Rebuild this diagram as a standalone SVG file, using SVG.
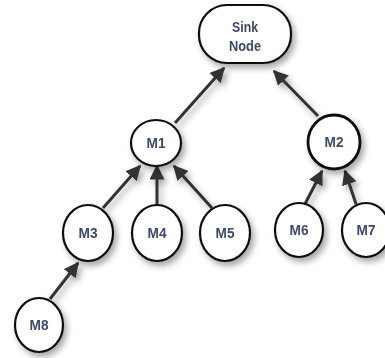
<svg xmlns="http://www.w3.org/2000/svg" width="385" height="358" viewBox="0 0 385 358">
  <defs>
    <filter id="shadow" x="-30%" y="-30%" width="170%" height="170%">
      <feDropShadow dx="3" dy="4" stdDeviation="3" flood-color="#000" flood-opacity="0.35"/>
    </filter>
    <marker id="arrow" viewBox="0 0 10 10" refX="9" refY="5" markerWidth="5" markerHeight="5" markerUnits="strokeWidth" orient="auto">
      <path d="M0,0 L10,5 L0,10 z" fill="#333"/>
    </marker>
  </defs>
  <style>
    .node { fill: #fff; stroke: #111; stroke-width: 2.2; }
    .label { font-family: "Liberation Sans Narrow", "Liberation Sans", Arial, sans-serif; font-weight: bold; font-size: 15px; fill: #3d4a6a; text-anchor: middle; }
    .edge { stroke: #333; stroke-width: 3; fill: none; marker-end: url(#arrow); }
  </style>

  <g id="connectors" filter="url(#shadow)">
    <line class="edge" x1="175" y1="123" x2="224" y2="68"/>
    <line class="edge" x1="318" y1="116" x2="274" y2="71"/>
    <line class="edge" x1="103" y1="208" x2="140" y2="166"/>
    <line class="edge" x1="157" y1="205" x2="157" y2="166"/>
    <line class="edge" x1="212" y1="208" x2="174" y2="166"/>
    <line class="edge" x1="305" y1="204" x2="322" y2="171"/>
    <line class="edge" x1="356" y1="204" x2="345" y2="171"/>
    <line class="edge" x1="50" y1="299" x2="78" y2="263"/>
  </g>

  <g id="sink" filter="url(#shadow)">
    <rect class="node" x="199" y="5" width="92" height="58" rx="28" ry="28"/>
    <text class="label" x="245" y="32" textLength="26" lengthAdjust="spacingAndGlyphs">Sink</text>
    <text class="label" x="245" y="51" textLength="32" lengthAdjust="spacingAndGlyphs">Node</text>
  </g>
  <g id="m1" filter="url(#shadow)">
    <ellipse class="node" cx="156" cy="143" rx="25" ry="23"/>
    <text class="label" x="156" y="148" textLength="19" lengthAdjust="spacingAndGlyphs">M1</text>
  </g>
  <g id="m2" filter="url(#shadow)">
    <ellipse class="node" cx="334" cy="142" rx="26" ry="27" style="stroke-width:2.8"/>
    <text class="label" x="334" y="147" textLength="19" lengthAdjust="spacingAndGlyphs">M2</text>
  </g>
  <g id="m3" filter="url(#shadow)">
    <ellipse class="node" cx="88" cy="233" rx="25" ry="28"/>
    <text class="label" x="88" y="238" textLength="19" lengthAdjust="spacingAndGlyphs">M3</text>
  </g>
  <g id="m4" filter="url(#shadow)">
    <ellipse class="node" cx="157" cy="233" rx="25" ry="28"/>
    <text class="label" x="157" y="238" textLength="19" lengthAdjust="spacingAndGlyphs">M4</text>
  </g>
  <g id="m5" filter="url(#shadow)">
    <ellipse class="node" cx="225" cy="233" rx="25" ry="28"/>
    <text class="label" x="225" y="238" textLength="19" lengthAdjust="spacingAndGlyphs">M5</text>
  </g>
  <g id="m6" filter="url(#shadow)">
    <ellipse class="node" cx="299" cy="230" rx="24" ry="27"/>
    <text class="label" x="299" y="235" textLength="19" lengthAdjust="spacingAndGlyphs">M6</text>
  </g>
  <g id="m7" filter="url(#shadow)">
    <ellipse class="node" cx="366" cy="230" rx="24" ry="27"/>
    <text class="label" x="366" y="235" textLength="19" lengthAdjust="spacingAndGlyphs">M7</text>
  </g>
  <g id="m8" filter="url(#shadow)">
    <ellipse class="node" cx="39" cy="325" rx="24" ry="27"/>
    <text class="label" x="39" y="330" textLength="19" lengthAdjust="spacingAndGlyphs">M8</text>
  </g>
</svg>
